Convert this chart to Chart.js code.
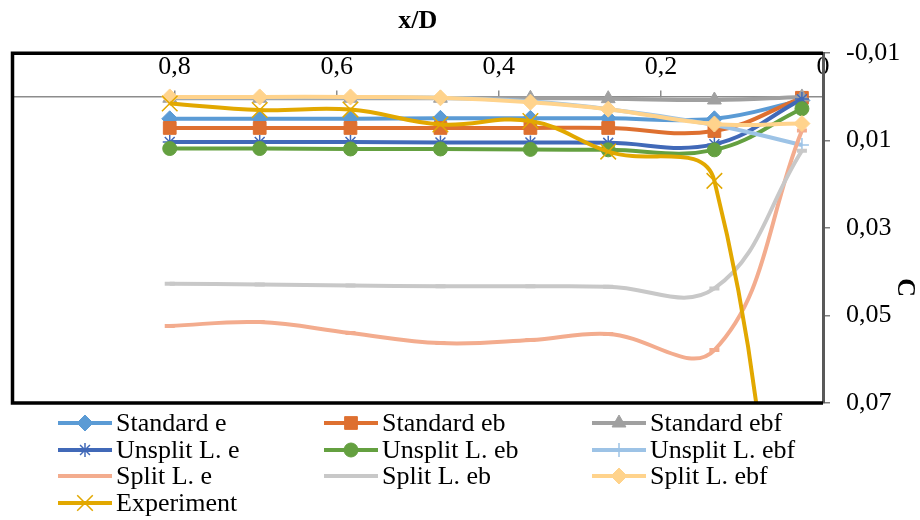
<!DOCTYPE html>
<html>
<head>
<meta charset="utf-8">
<script src="https://cdn.jsdelivr.net/npm/chart.js@4.4.1/dist/chart.umd.min.js"></script>
<style>
  html, body { margin: 0; padding: 0; background: #ffffff; }
  #wrap { width: 920px; height: 520px; }
</style>
</head>
<body>
<div id="wrap"><canvas id="chart" width="920" height="520"></canvas></div>
<script>
// Station positions along the wall (x/D)
const xPositions = [0.806, 0.695, 0.583, 0.472, 0.361, 0.265, 0.134, 0.026];

// Coefficient C for each model
const standardE   = [0.0050, 0.0050, 0.0050, 0.0049, 0.0049, 0.0049, 0.0050, 0.0008];
const standardEb  = [0.0071, 0.0071, 0.0071, 0.0071, 0.0071, 0.0071, 0.0078, 0.0002];
const standardEbf = [0.0003, 0.0003, 0.0003, 0.0003, 0.0003, 0.0004, 0.0007, 0.0000];
const unsplitE    = [0.0103, 0.0103, 0.0103, 0.0104, 0.0104, 0.0105, 0.0108, 0.0005];
const unsplitEb   = [0.0118, 0.0118, 0.0119, 0.0119, 0.0120, 0.0121, 0.0121, 0.0027];
const unsplitEbf  = [0.0001, 0.0001, 0.0001, 0.0002, 0.0010, 0.0028, 0.0064, 0.0110];
const splitE      = [0.0524, 0.0515, 0.0540, 0.0563, 0.0556, 0.0542, 0.0579, 0.0077];
const splitEb     = [0.0427, 0.0429, 0.0431, 0.0433, 0.0433, 0.0434, 0.0438, 0.0123];
const splitEbf    = [0.0000, 0.0000, 0.0000, 0.0002, 0.0012, 0.0028, 0.0062, 0.0061];
const experiment  = [0.0015, 0.0030, 0.0029, 0.0063, 0.0055, 0.0125, 0.0192, 0.1900];

const seriesNames = ['Standard e', 'Standard eb', 'Standard ebf',
                     'Unsplit L. e', 'Unsplit L. eb', 'Unsplit L. ebf',
                     'Split L. e', 'Split L. eb', 'Split L. ebf', 'Experiment'];

// Axis ticks
const xTickValues = [1, 0.8, 0.6, 0.4, 0.2, 0];
const yTickValues = [-0.01, 0.01, 0.03, 0.05, 0.07];
const yTitle = 'C';

const FONT = 'Liberation Serif';

function toPoints(values) {
  return values.map((v, i) => ({ x: xPositions[i], y: v }));
}
function decimalComma(v) {
  return String(Math.round(v * 1000) / 1000).replace('.', ',');
}

const styles = [
  { color: '#5B9BD5', pointStyle: 'rectRot',  radius: 8, pbw: 1 },
  { color: '#DE7030', pointStyle: 'rect',     radius: 9, pbw: 1 },
  { color: '#A0A0A0', pointStyle: 'triangle', radius: 8, pbw: 1 },
  { color: '#4169B8', pointStyle: 'star',     radius: 7, pbw: 1.5, hollow: true },
  { color: '#64A040', pointStyle: 'circle',   radius: 7, pbw: 1 },
  { color: '#9DC3E6', pointStyle: 'cross',    radius: 7, pbw: 1.5, hollow: true },
  { color: '#F3AC8E', pointStyle: 'line',     radius: 5, pbw: 4, hollow: true },
  { color: '#C8C8C8', pointStyle: 'line',     radius: 5, pbw: 4, hollow: true },
  { color: '#FFD38C', pointStyle: 'rectRot',  radius: 8, pbw: 1 },
  { color: '#E2A800', pointStyle: 'crossRot', radius: 11, pbw: 1.5, hollow: true }
];

const seriesValues = [standardE, standardEb, standardEbf, unsplitE, unsplitEb,
                      unsplitEbf, splitE, splitEb, splitEbf, experiment];

const datasets = seriesValues.map((vals, i) => ({
  label: seriesNames[i],
  data: toPoints(vals),
  borderColor: styles[i].color,
  backgroundColor: styles[i].color,
  borderWidth: 4,
  tension: 0.4,
  fill: false,
  pointStyle: styles[i].pointStyle,
  pointRadius: styles[i].radius,
  pointHoverRadius: styles[i].radius,
  pointBorderWidth: styles[i].pbw,
  pointBorderColor: styles[i].color,
  pointBackgroundColor: styles[i].hollow ? 'rgba(0,0,0,0)' : styles[i].color,
  order: -i
}));

// Black frame on the left, top and bottom of the plot area
const plotFrame = {
  id: 'plotFrame',
  afterDatasetsDraw(chart) {
    const { ctx, chartArea: a } = chart;
    ctx.save();
    ctx.strokeStyle = '#000000';
    ctx.lineWidth = 3.5;
    ctx.beginPath();
    ctx.moveTo(a.right, a.top);
    ctx.lineTo(a.left, a.top);
    ctx.lineTo(a.left, a.bottom);
    ctx.lineTo(a.right, a.bottom);
    ctx.stroke();
    ctx.restore();
  }
};

// Rotated title of the value axis, placed in its outer strip
const valueAxisTitle = {
  id: 'valueAxisTitle',
  afterDraw(chart) {
    const { ctx, chartArea: a } = chart;
    const s = chart.scales.y;
    ctx.save();
    ctx.translate(s.right - 15, a.top + (a.bottom - a.top) * 0.67);
    ctx.rotate(Math.PI / 2);
    ctx.fillStyle = '#000000';
    ctx.font = 'bold 26px "' + FONT + '"';
    ctx.textAlign = 'center';
    ctx.textBaseline = 'middle';
    ctx.fillText(yTitle, 0, 0);
    ctx.restore();
  }
};

// Three-column legend under the plot
const gridLegend = {
  id: 'gridLegend',
  afterDraw(chart) {
    const { ctx } = chart;
    const colX = [58, 324, 592];
    const rowY = [423, 450, 476, 503];
    const lineLen = 54;
    ctx.save();
    chart.data.datasets.forEach((ds, i) => {
      const x0 = colX[i % 3];
      const y = rowY[Math.floor(i / 3)];
      ctx.strokeStyle = ds.borderColor;
      ctx.lineWidth = 4;
      ctx.lineCap = 'butt';
      ctx.beginPath();
      ctx.moveTo(x0, y);
      ctx.lineTo(x0 + lineLen, y);
      ctx.stroke();
      ctx.fillStyle = ds.pointBackgroundColor;
      ctx.strokeStyle = ds.pointBorderColor;
      ctx.lineWidth = ds.pointBorderWidth;
      Chart.helpers.drawPoint(ctx, {
        pointStyle: ds.pointStyle,
        radius: ds.pointRadius,
        rotation: 0,
        borderWidth: ds.pointBorderWidth
      }, x0 + lineLen / 2, y);
      ctx.fillStyle = '#000000';
      ctx.font = '26px "' + FONT + '"';
      ctx.textAlign = 'left';
      ctx.textBaseline = 'middle';
      ctx.fillText(ds.label, x0 + lineLen + 4, y + 1);
    });
    ctx.restore();
  }
};

new Chart(document.getElementById('chart'), {
  type: 'line',
  data: { datasets },
  options: {
    responsive: false,
    animation: false,
    devicePixelRatio: 1,
    layout: { padding: { left: 12, top: 0, right: 0, bottom: 117 } },
    plugins: {
      legend: { display: false },
      tooltip: { enabled: false },
      title: {
        display: true,
        text: 'x/D',
        fullSize: false,
        color: '#000000',
        font: { family: FONT, size: 26, weight: 'bold' },
        padding: { top: 6, bottom: 16 }
      }
    },
    scales: {
      x: {
        type: 'linear',
        position: { y: 0 },
        reverse: true,
        min: 0,
        max: 1,
        afterBuildTicks: s => { s.ticks = xTickValues.map(v => ({ value: v })); },
        grid: { drawOnChartArea: false, drawTicks: true, tickLength: -7, color: '#8C8C8C', lineWidth: 1.5 },
        border: { display: true, color: '#8C8C8C', width: 1.5 },
        ticks: {
          padding: -38,
          maxRotation: 0,
          autoSkip: false,
          color: '#000000',
          font: { family: FONT, size: 26 },
          callback: v => (v === 1 ? '' : decimalComma(v))
        }
      },
      y: {
        type: 'linear',
        position: 'right',
        reverse: true,
        min: -0.01,
        max: 0.07,
        afterBuildTicks: s => { s.ticks = yTickValues.map(v => ({ value: v })); },
        afterFit: s => { s.width = 97; },
        grid: { drawOnChartArea: false, drawTicks: true, tickLength: 7, color: '#7F7F7F', lineWidth: 1.5 },
        border: { display: true, color: '#595959', width: 3 },
        ticks: {
          padding: 16,
          color: '#000000',
          font: { family: FONT, size: 26 },
          callback: v => decimalComma(v)
        }
      }
    }
  },
  plugins: [plotFrame, valueAxisTitle, gridLegend]
});
</script>
</body>
</html>
